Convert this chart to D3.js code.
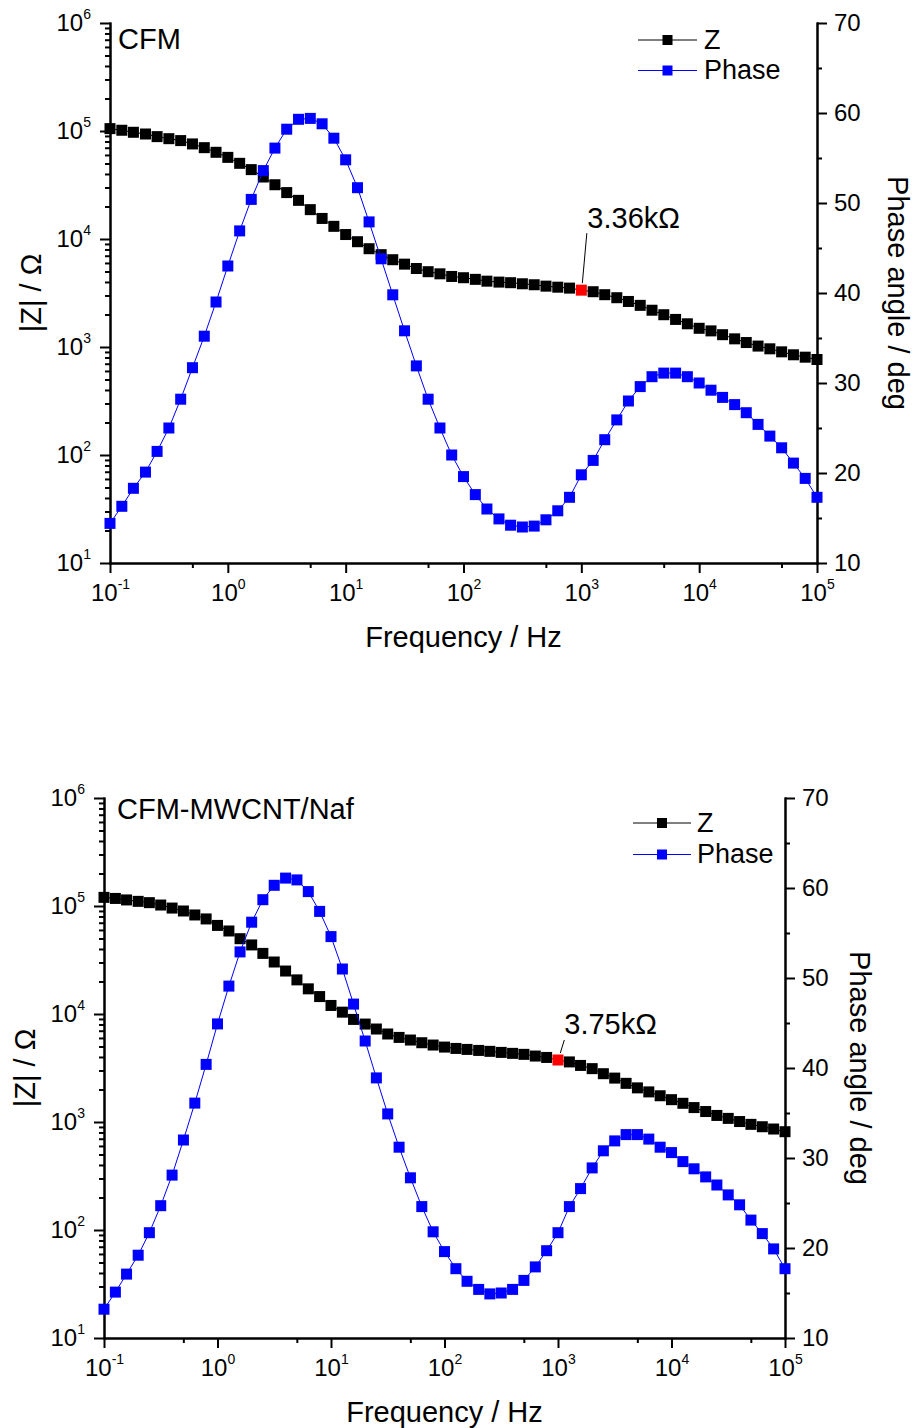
<!DOCTYPE html>
<html>
<head>
<meta charset="UTF-8">
<title>Bode plots CFM</title>
<script src="https://cdn.jsdelivr.net/npm/d3@7"></script>
<style>
    body { margin: 0; background: #ffffff; }
    svg text { font-family: Arial, "Liberation Sans", sans-serif; fill: #000000; }
</style>
</head>
<body>
<svg id="chart" width="916" height="1428"></svg>
<script>
// frequencies, 10 points per decade
var freqHz = [0.1, 0.126, 0.158, 0.2, 0.251, 0.316, 0.398, 0.501, 0.631, 0.794,
    1, 1.26, 1.58, 2, 2.51, 3.16, 3.98, 5.01, 6.31, 7.94,
    10, 12.6, 15.8, 20, 25.1, 31.6, 39.8, 50.1, 63.1, 79.4,
    100, 126, 158, 200, 251, 316, 398, 501, 631, 794,
    1000, 1260, 1580, 2000, 2510, 3160, 3980, 5010, 6310, 7940,
    10000, 12600, 15800, 20000, 25100, 31600, 39800, 50100, 63100, 79400, 100000];

// CFM
var zTop = [105200, 101600, 97300, 93800, 88700, 84900, 81500, 75900, 70100, 63500,
    57000, 50200, 43900, 37500, 31800, 26900, 22800, 18700, 15500, 13100,
    11000, 9440, 8130, 7160, 6430, 5850, 5330, 4980, 4760, 4500,
    4380, 4230, 4070, 3990, 3940, 3850, 3770, 3660, 3580, 3510,
    3360, 3250, 3050, 2860, 2640, 2430, 2190, 1990, 1800, 1640,
    1490, 1410, 1300, 1190, 1100, 1020, 962, 902, 847, 805, 766];
var phaseTop = [14.4, 16.3, 18.3, 20.1, 22.4, 25.0, 28.2, 31.7, 35.2, 39.0,
    43.0, 46.9, 50.4, 53.6, 56.1, 58.2, 59.3, 59.4, 58.8, 57.2,
    54.8, 51.7, 47.9, 43.8, 39.8, 35.8, 31.9, 28.2, 25.0, 22.0,
    19.6, 17.6, 16.0, 14.9, 14.2, 14.0, 14.1, 14.8, 15.8, 17.3,
    19.8, 21.4, 23.7, 25.9, 28.0, 29.6, 30.7, 31.1, 31.1, 30.7,
    30.0, 29.2, 28.4, 27.6, 26.7, 25.4, 24.1, 22.8, 21.1, 19.4, 17.3];

// CFM-MWCNT/Naf
var zBottom = [120200, 117500, 113800, 110400, 107400, 102100, 95700, 89900, 82600, 75900,
    66100, 58700, 49800, 43600, 36400, 30300, 25000, 20700, 17100, 14500,
    12000, 10400, 8910, 8070, 7260, 6530, 6070, 5740, 5420, 5160,
    4940, 4800, 4700, 4600, 4510, 4410, 4320, 4230, 4080, 3960,
    3750, 3600, 3340, 3120, 2800, 2550, 2280, 2070, 1900, 1750,
    1610, 1490, 1360, 1250, 1150, 1080, 1010, 951, 904, 861, 813];
var phaseBottom = [13.2, 15.1, 17.1, 19.2, 21.7, 24.7, 28.1, 32.0, 36.1, 40.4,
    44.9, 49.1, 52.9, 56.2, 58.7, 60.3, 61.1, 60.9, 59.6, 57.4,
    54.6, 51.0, 47.1, 43.0, 38.9, 34.9, 31.2, 27.8, 24.6, 21.8,
    19.6, 17.7, 16.3, 15.4, 14.9, 15.0, 15.4, 16.4, 17.9, 19.7,
    21.7, 24.6, 26.6, 28.9, 30.8, 31.9, 32.6, 32.6, 32.1, 31.2,
    30.6, 29.6, 28.8, 27.9, 27.0, 25.9, 24.8, 23.1, 21.6, 19.9, 17.7];

// axis ticks
var freqTickExp = [-1, 0, 1, 2, 3, 4, 5];
var zTickExp = [1, 2, 3, 4, 5, 6];
var phaseTicks = [10, 20, 30, 40, 50, 60, 70];
var phaseMinorTicks = [15, 25, 35, 45, 55, 65];
var seriesNames = ["Z", "Phase"];

var markedFreq = 1000;
var FONT = "Arial, 'Liberation Sans', sans-serif";
var svg = d3.select("#chart");

var panels = [
    {
        label: "CFM", z: zTop, phase: phaseTop, note: "3.36kΩ",
        left: 110, right: 817, top: 23, bottom: 563,
        labelX: 118, labelY: 49,
        legX0: 638, legX1: 697, legY: 40, legGap: 30.5, legTextX: 704,
        xTitleY: 647, zTitleX: 41, pTitleX: 888,
        noteText: [6, -62], noteLine: [5.5, -57, 1, -7]
    },
    {
        label: "CFM-MWCNT/Naf", z: zBottom, phase: phaseBottom, note: "3.75kΩ",
        left: 104, right: 785, top: 798, bottom: 1338,
        labelX: 117, labelY: 819,
        legX0: 633, legX1: 691, legY: 823, legGap: 31.5, legTextX: 697,
        xTitleY: 1422, zTitleX: 35, pTitleX: 850,
        noteText: [6.3, -26], noteLine: [6.3, -20, 2.3, -7]
    }
];

panels.forEach(drawPanel);

function powerLabel(sel, supDy) {
    sel.each(function (d) {
        var t = d3.select(this);
        var e = Math.round(Math.log10(d));
        t.text(null);
        t.append("tspan").text("10");
        t.append("tspan").attr("font-size", 14).attr("dy", supDy).text(String(e));
    });
}

function drawPanel(p) {
    var x = d3.scaleLog().domain([0.1, 1e5]).range([p.left, p.right]);
    var yZ = d3.scaleLog().domain([10, 1e6]).range([p.bottom, p.top]);
    var yP = d3.scaleLinear().domain([10, 70]).range([p.bottom, p.top]);

    var rows = freqHz.map(function (f, i) {
        return { f: f, z: p.z[i], ph: p.phase[i] };
    });

    var g = svg.append("g");

    // minor ticks first, under the major axes
    var xMinor = [];
    var zMinor = [];
    freqTickExp.slice(0, -1).forEach(function (e) { xMinor.push(5 * Math.pow(10, e)); });
    zTickExp.slice(0, -1).forEach(function (e) {
        for (var k = 2; k <= 9; k++) zMinor.push(k * Math.pow(10, e));
    });

    g.append("g")
        .attr("transform", "translate(0," + p.bottom + ")")
        .call(d3.axisBottom(x).tickValues(xMinor).tickSize(5).tickSizeOuter(0).tickFormat(""))
        .call(styleAxis);
    g.append("g")
        .attr("transform", "translate(" + p.left + ",0)")
        .call(d3.axisLeft(yZ).tickValues(zMinor).tickSize(5).tickSizeOuter(0).tickFormat(""))
        .call(styleAxis);
    g.append("g")
        .attr("transform", "translate(" + p.right + ",0)")
        .call(d3.axisRight(yP).tickValues(phaseMinorTicks).tickSize(5).tickSizeOuter(0).tickFormat(""))
        .call(styleAxis);

    var xAxisG = g.append("g")
        .attr("transform", "translate(0," + p.bottom + ")")
        .call(d3.axisBottom(x)
            .tickValues(freqTickExp.map(function (e) { return Math.pow(10, e); }))
            .tickSize(10).tickSizeOuter(0).tickPadding(11))
        .call(styleAxis);
    xAxisG.selectAll(".tick text").call(powerLabel, "-0.85em");

    var zAxisG = g.append("g")
        .attr("transform", "translate(" + p.left + ",0)")
        .call(d3.axisLeft(yZ)
            .tickValues(zTickExp.map(function (e) { return Math.pow(10, e); }))
            .tickSize(10).tickSizeOuter(0).tickPadding(9))
        .call(styleAxis);
    zAxisG.selectAll(".tick text").call(powerLabel, "-0.85em");

    g.append("g")
        .attr("transform", "translate(" + p.right + ",0)")
        .call(d3.axisRight(yP).tickValues(phaseTicks).tickSize(10).tickSizeOuter(0).tickPadding(7))
        .call(styleAxis);

    // axis titles
    g.append("text")
        .attr("x", (p.left + p.right) / 2)
        .attr("y", p.xTitleY)
        .attr("text-anchor", "middle")
        .attr("font-size", 29)
        .text("Frequency / Hz");
    g.append("text")
        .attr("transform", "translate(" + p.zTitleX + "," + (p.top + p.bottom) / 2 + ") rotate(-90)")
        .attr("text-anchor", "middle")
        .attr("font-size", 29)
        .text("|Z| / Ω");
    g.append("text")
        .attr("transform", "translate(" + p.pTitleX + "," + (p.top + p.bottom) / 2 + ") rotate(90)")
        .attr("text-anchor", "middle")
        .attr("font-size", 29)
        .text("Phase angle / deg");

    g.append("text")
        .attr("x", p.labelX)
        .attr("y", p.labelY)
        .attr("font-size", 29)
        .text(p.label);

    var lineZ = d3.line()
        .x(function (d) { return x(d.f); })
        .y(function (d) { return yZ(d.z); });
    var linePh = d3.line()
        .x(function (d) { return x(d.f); })
        .y(function (d) { return yP(d.ph); });

    var MS = 11;

    // |Z| series
    g.append("path")
        .datum(rows)
        .attr("d", lineZ)
        .attr("fill", "none")
        .attr("stroke", "#000000")
        .attr("stroke-width", 1);
    g.selectAll("rect.z")
        .data(rows)
        .enter()
        .append("rect")
        .attr("class", "z")
        .attr("x", function (d) { return x(d.f) - MS / 2; })
        .attr("y", function (d) { return yZ(d.z) - MS / 2; })
        .attr("width", MS)
        .attr("height", MS)
        .attr("fill", function (d) { return d.f === markedFreq ? "#ff0000" : "#000000"; });

    // phase series
    g.append("path")
        .datum(rows)
        .attr("d", linePh)
        .attr("fill", "none")
        .attr("stroke", "#0000ff")
        .attr("stroke-width", 1);
    g.selectAll("rect.ph")
        .data(rows)
        .enter()
        .append("rect")
        .attr("class", "ph")
        .attr("x", function (d) { return x(d.f) - MS / 2; })
        .attr("y", function (d) { return yP(d.ph) - MS / 2; })
        .attr("width", MS)
        .attr("height", MS)
        .attr("fill", "#0000ff");

    // annotation on the 1 kHz point
    var marked = rows.filter(function (d) { return d.f === markedFreq; })[0];
    var mx = x(marked.f), my = yZ(marked.z);
    g.append("line")
        .attr("x1", mx + p.noteLine[0]).attr("y1", my + p.noteLine[1])
        .attr("x2", mx + p.noteLine[2]).attr("y2", my + p.noteLine[3])
        .attr("stroke", "#000000")
        .attr("stroke-width", 1);
    g.append("text")
        .attr("x", mx + p.noteText[0])
        .attr("y", my + p.noteText[1])
        .attr("font-size", 29)
        .text(p.note);

    // legend
    var legColors = ["#000000", "#0000ff"];
    seriesNames.forEach(function (name, i) {
        var ly = p.legY + i * p.legGap;
        g.append("line")
            .attr("x1", p.legX0).attr("x2", p.legX1)
            .attr("y1", ly).attr("y2", ly)
            .attr("stroke", legColors[i])
            .attr("stroke-width", 1);
        g.append("rect")
            .attr("x", (p.legX0 + p.legX1) / 2 - 5)
            .attr("y", ly - 5)
            .attr("width", 10)
            .attr("height", 10)
            .attr("fill", legColors[i]);
        g.append("text")
            .attr("x", p.legTextX)
            .attr("y", ly)
            .attr("dy", "0.32em")
            .attr("font-size", 27)
            .text(name);
    });
}

function styleAxis(sel) {
    sel.attr("font-size", 24).attr("font-family", FONT);
    sel.select(".domain").attr("stroke-width", 2).attr("stroke-linecap", "square");
    sel.selectAll(".tick line").attr("stroke-width", 2);
}
</script>
</body>
</html>
